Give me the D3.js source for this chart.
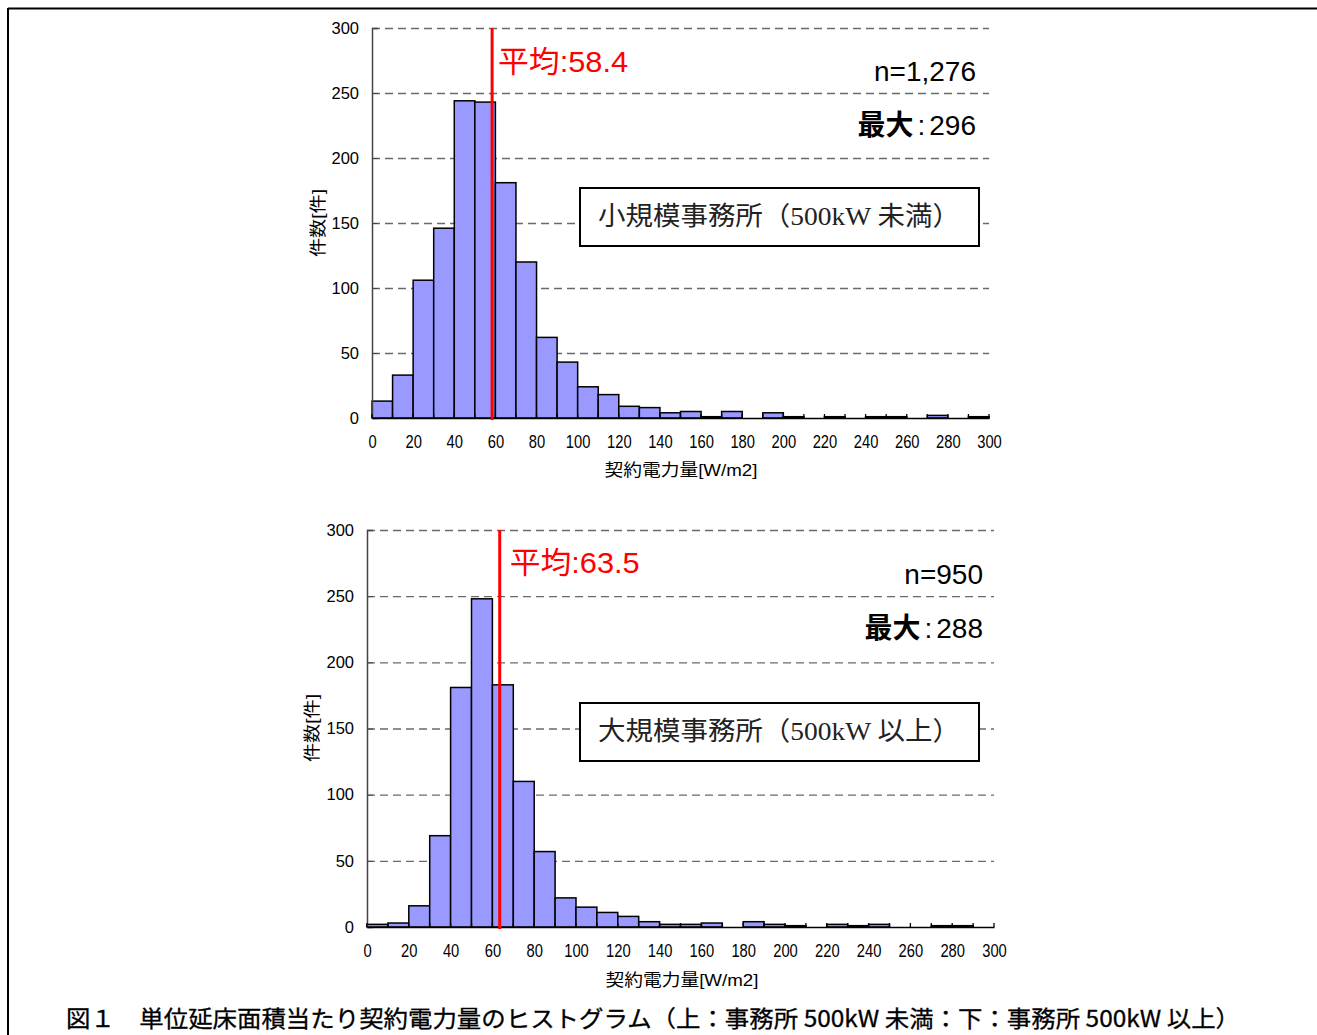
<!DOCTYPE html>
<html>
<head>
<meta charset="utf-8">
<script src="https://cdn.jsdelivr.net/npm/d3@7/dist/d3.min.js"></script>
<style>
  html, body { margin: 0; padding: 0; background: #fff; }
  svg { display: block; }
</style>
</head>
<body>
<svg id="fig" width="1317" height="1035"></svg>
<script>
// Bin start values [W/m2], each bin is 10 wide
const binStarts = [0, 10, 20, 30, 40, 50, 60, 70, 80, 90, 100, 110, 120, 130, 140,
                   150, 160, 170, 180, 190, 200, 210, 220, 230, 240, 250, 260, 270, 280, 290];
const binWidth = 10;

// Counts per bin: small offices (< 500kW)
const smallCounts = [13, 33, 106, 146, 244, 243, 181, 120, 62, 43, 24, 18, 9, 8, 4,
                     5, 1, 5, 0, 4, 1, 0, 1, 0, 1, 1, 0, 2, 0, 1];
// Counts per bin: large offices (>= 500kW)
const largeCounts = [2, 3, 16, 69, 181, 248, 183, 110, 57, 22, 15, 11, 8, 4, 2,
                     2, 3, 0, 4, 2, 1, 0, 2, 1, 2, 0, 0, 1, 1, 0];

const smallMean = 58.4, largeMean = 63.5;
const smallN = "1,276", largeN = "950";
const smallMax = 296, largeMax = 288;

const xTickValues = [0, 20, 40, 60, 80, 100, 120, 140, 160, 180, 200, 220, 240, 260, 280, 300];
const yTickValues = [0, 50, 100, 150, 200, 250, 300];

const yLabel = "件数[件]";
const xLabel = "契約電力量[W/m2]";
const caption = "図１　単位延床面積当たり契約電力量のヒストグラム（上：事務所 500kW 未満：下：事務所 500kW 以上）";

const svg = d3.select("#fig");
const sansFont = "'Liberation Sans', Arial, 'Noto Sans CJK JP', sans-serif";
const cjkFont = "'Liberation Sans', 'Noto Sans CJK JP', sans-serif";

// Page frame (left and top rules)
svg.append("line").attr("x1", 8).attr("x2", 1317).attr("y1", 8.5).attr("y2", 8.5)
  .attr("stroke", "#000").attr("stroke-width", 2);
svg.append("line").attr("x1", 8).attr("x2", 8).attr("y1", 8).attr("y2", 1035)
  .attr("stroke", "#000").attr("stroke-width", 2);

function drawPanel(cfg) {
  const g = svg.append("g");
  const x = d3.scaleLinear().domain([0, 300]).range([cfg.left, cfg.right]);
  const y = d3.scaleLinear().domain([0, 300]).range([cfg.bottom, cfg.top]);

  // dashed horizontal gridlines
  g.append("g").selectAll("line").data(yTickValues.filter(v => v > 0)).join("line")
    .attr("x1", cfg.left).attr("x2", cfg.right)
    .attr("y1", d => y(d) + 0.5).attr("y2", d => y(d) + 0.5)
    .attr("stroke", "#6a6a6a").attr("stroke-width", 1.3)
    .attr("stroke-dasharray", "8,5");

  // histogram bars
  const bins = binStarts.map((b, i) => ({ x0: b, x1: b + binWidth, n: cfg.counts[i] }));
  g.append("g").selectAll("rect").data(bins.filter(d => d.n > 0)).join("rect")
    .attr("x", d => x(d.x0)).attr("width", d => x(d.x1) - x(d.x0))
    .attr("y", d => y(d.n)).attr("height", d => y(0) - y(d.n))
    .attr("fill", "#9999ff").attr("stroke", "#000").attr("stroke-width", 1.5);

  // y axis
  const yAxis = g.append("g").attr("transform", `translate(${cfg.left},0)`)
    .call(d3.axisLeft(y).tickValues(yTickValues).tickSize(-6).tickPadding(13));
  yAxis.select(".domain").attr("stroke", "#444").attr("stroke-width", 1.5);
  yAxis.selectAll(".tick line").attr("stroke", "#444");
  yAxis.selectAll(".tick text").attr("font-family", sansFont).attr("font-size", 16.5)
    .attr("fill", "#000");

  // x axis: labels every 20, small ticks at every bin edge
  const xAxis = g.append("g").attr("transform", `translate(0,${cfg.bottom})`)
    .call(d3.axisBottom(x).tickValues(xTickValues).tickSize(0).tickPadding(17));
  xAxis.select(".domain").attr("stroke", "#000").attr("stroke-width", 1.6);
  xAxis.selectAll(".tick text").attr("font-family", sansFont).attr("font-size", 18)
    .attr("fill", "#000").attr("transform", "scale(0.82,1)");
  g.append("g").selectAll("line").data(binStarts.concat([300])).join("line")
    .attr("x1", d => x(d)).attr("x2", d => x(d))
    .attr("y1", cfg.bottom).attr("y2", cfg.bottom - 4)
    .attr("stroke", "#000").attr("stroke-width", 1.3);

  // axis titles
  g.append("text").attr("transform", `translate(${cfg.yLabelX},${cfg.yLabelY}) rotate(-90)`)
    .attr("text-anchor", "middle").attr("font-family", cjkFont).attr("font-size", 17)
    .attr("textLength", 68).attr("lengthAdjust", "spacingAndGlyphs")
    .text(yLabel);
  g.append("text").attr("x", cfg.xLabelX).attr("y", cfg.xLabelY)
    .attr("text-anchor", "middle").attr("font-family", cjkFont).attr("font-size", 17)
    .attr("textLength", 153).attr("lengthAdjust", "spacingAndGlyphs")
    .text(xLabel);

  // mean line and label
  g.append("line").attr("x1", x(cfg.mean)).attr("x2", x(cfg.mean))
    .attr("y1", y(300)).attr("y2", y(0) + 2)
    .attr("stroke", "#ff0000").attr("stroke-width", 3);
  g.append("text").attr("x", x(cfg.mean) + cfg.meanDx).attr("y", cfg.meanY)
    .attr("font-family", cjkFont).attr("font-size", 30).attr("fill", "#ff0000")
    .attr("textLength", 130).attr("lengthAdjust", "spacingAndGlyphs")
    .text("平均:" + cfg.mean.toFixed(1));

  // sample size and maximum
  g.append("text").attr("x", cfg.statRight).attr("y", cfg.nY)
    .attr("text-anchor", "end").attr("font-family", sansFont).attr("font-size", 28)
    .text("n=" + cfg.nText);
  const mx = g.append("text").attr("x", cfg.statRight).attr("y", cfg.maxY)
    .attr("text-anchor", "end").attr("font-family", cjkFont).attr("font-size", 28);
  mx.append("tspan").attr("font-weight", "bold").text("最大");
  mx.append("tspan").attr("dx", 4).text(":");
  mx.append("tspan").attr("dx", 4).text(cfg.max);

  // group label box
  g.append("rect").attr("x", 580).attr("y", cfg.boxY).attr("width", 399).attr("height", 58)
    .attr("fill", "#fff").attr("stroke", "#000").attr("stroke-width", 2);
  g.append("text").attr("x", 598).attr("y", cfg.boxY + 37)
    .attr("font-family", "'Liberation Serif', 'Noto Sans CJK JP', serif").attr("font-size", 26)
    .attr("fill", "#222")
    .attr("textLength", 362).attr("lengthAdjust", "spacingAndGlyphs")
    .text(cfg.label);
}

drawPanel({
  counts: smallCounts, mean: smallMean, nText: smallN, max: smallMax,
  label: "小規模事務所（500kW 未満）",
  left: 372, right: 989, top: 28, bottom: 418,
  yLabelX: 324, yLabelY: 223,
  xLabelX: 681, xLabelY: 476,
  meanDx: 6, meanY: 72,
  statRight: 976, nY: 81, maxY: 135,
  boxY: 188
});

drawPanel({
  counts: largeCounts, mean: largeMean, nText: largeN, max: largeMax,
  label: "大規模事務所（500kW 以上）",
  left: 367, right: 994, top: 530, bottom: 927,
  yLabelX: 318, yLabelY: 728,
  xLabelX: 682, xLabelY: 986,
  meanDx: 10, meanY: 573,
  statRight: 983, nY: 584, maxY: 638,
  boxY: 703
});

// figure caption
svg.append("text").attr("x", 66).attr("y", 1027)
  .attr("font-family", "'Noto Sans CJK JP', sans-serif").attr("font-size", 23)
  .attr("stroke", "#000").attr("stroke-width", 0.3)
  .attr("textLength", 1174).attr("lengthAdjust", "spacingAndGlyphs")
  .text(caption);
</script>
</body>
</html>
